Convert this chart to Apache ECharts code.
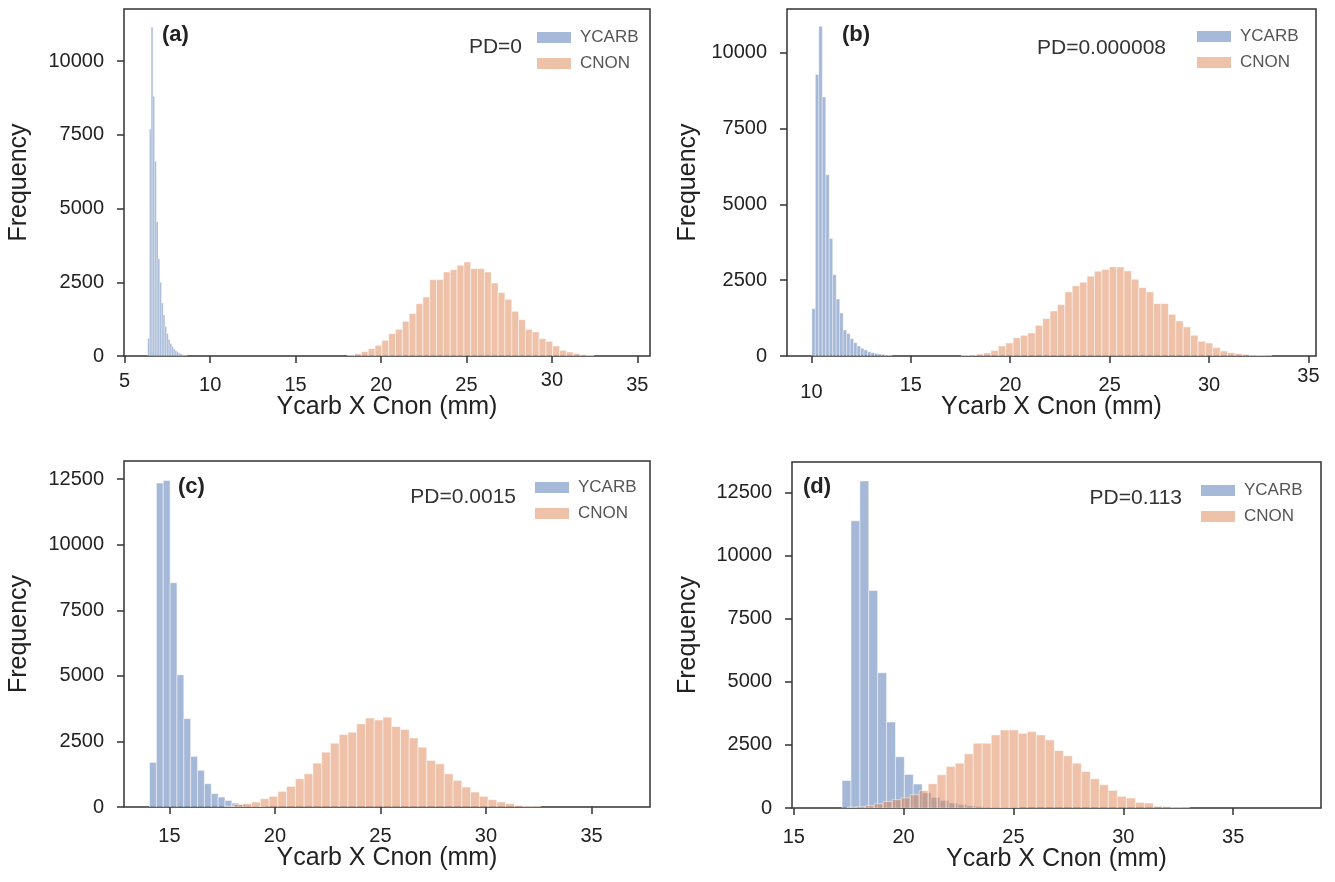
<!DOCTYPE html>
<html>
<head>
<meta charset="utf-8">
<script src="https://cdn.jsdelivr.net/npm/echarts@6/dist/echarts.min.js"></script>
<style>
html,body{margin:0;padding:0;background:#fff;}
#chart{width:1335px;height:882px;}
</style>
</head>
<body>
<div id="chart"></div>
<script>
// ---------------- DATA ----------------
const seriesNames = ['YCARB', 'CNON'];
const panelLabels = ['(a)', '(b)', '(c)', '(d)'];
const pdLabels = ['PD=0', 'PD=0.000008', 'PD=0.0015', 'PD=0.113'];
const xAxisTitle = 'Ycarb X Cnon (mm)';
const yAxisTitle = 'Frequency';

const xTicksA = [5, 10, 15, 20, 25, 30, 35];
const xTicksB = [10, 15, 20, 25, 30, 35];
const xTicksC = [15, 20, 25, 30, 35];
const xTicksD = [15, 20, 25, 30, 35];
const yTicksAB = [0, 2500, 5000, 7500, 10000];
const yTicksCD = [0, 2500, 5000, 7500, 10000, 12500];

// histogram bins: first bin left edge, bin width, counts per bin
const aYcarbStart = 6.35, aYcarbWidth = 0.1;
const aYcarbCounts = [600, 7700, 11160, 8800, 6600, 4550, 3300, 2500, 1800, 1390, 1000, 760, 560, 420, 320, 240, 180, 140, 100, 70, 45, 30, 15];
const aCnonStart = 18.05, aCnonWidth = 0.4;
const aCnonCounts = [30, 70, 150, 250, 362, 532, 758, 905, 1176, 1437, 1776, 2000, 2590, 2590, 2850, 2930, 3077, 3190, 2964, 2964, 2850, 2477, 2150, 1923, 1516, 1233, 905, 815, 588, 498, 340, 192, 136, 80, 45, 20];

const bYcarbStart = 10.02, bYcarbWidth = 0.175;
const bYcarbCounts = [1560, 9290, 10880, 8550, 5980, 3880, 2680, 1880, 1420, 860, 740, 570, 440, 330, 250, 200, 140, 110, 88, 66, 50, 30, 20];
const bCnonStart = 17.54, bCnonWidth = 0.372;
const bCnonCounts = [20, 35, 60, 100, 180, 330, 430, 600, 683, 760, 1013, 1233, 1487, 1696, 2115, 2313, 2434, 2632, 2797, 2852, 2940, 2940, 2808, 2533, 2258, 2115, 1729, 1729, 1377, 1156, 958, 683, 485, 429, 275, 165, 110, 77, 55, 30, 15, 8];

const cYcarbStart = 14.06, cYcarbWidth = 0.325;
const cYcarbCounts = [1700, 12350, 12450, 8550, 5040, 3370, 1930, 1400, 890, 510, 380, 250, 150, 90, 50, 30, 15];
const cCnonStart = 17.65, cCnonWidth = 0.415;
const cCnonCounts = [30, 100, 127, 190, 317, 405, 595, 785, 1076, 1266, 1672, 2090, 2432, 2761, 2850, 3166, 3394, 3318, 3420, 3065, 2951, 2634, 2280, 1773, 1646, 1266, 1013, 760, 570, 405, 279, 190, 127, 51, 25, 12];

const dYcarbStart = 17.2, dYcarbWidth = 0.405;
const dYcarbCounts = [1090, 11380, 12960, 8615, 5360, 3410, 2030, 1330, 950, 600, 420, 300, 200, 140, 90, 60, 40, 25, 15, 10];
const dCnonStart = 17.43, dCnonWidth = 0.41;
const dCnonCounts = [35, 55, 90, 170, 260, 330, 400, 530, 690, 960, 1316, 1645, 1776, 2145, 2566, 2566, 2895, 3092, 3092, 2960, 3026, 2895, 2697, 2276, 2066, 1776, 1447, 1158, 921, 697, 461, 395, 224, 197, 66, 53, 25, 12];

// ---------------- LAYOUT / STYLE ----------------
const blue = '#4c72b0', orange = '#dd8452';
const blueLegend = '#a6b9d8', orangeLegend = '#eec2a9';
const axisColor = '#333';
const fontFam = '"Liberation Sans", Arial, sans-serif';

// per-label vertical nudges (px) imitating the reference's uneven tick-label baseline
const panels = [
  {grid: {left: 124, top: 9, width: 526, height: 347}, xr: [4.96, 35.74], ymax: 11770, xt: xTicksA, yt: yTicksAB,
   yc: [aYcarbStart, aYcarbWidth, aYcarbCounts], cn: [aCnonStart, aCnonWidth, aCnonCounts], ycLw: 0.6,
   nameGapY: 92, legend: {left: 532, top: 24}, pd: [522, 47], lab: [162, 35],
   nudge: {5: -4, 30: -5}},
  {grid: {left: 787, top: 9, width: 529, height: 347}, xr: [8.77, 35.38], ymax: 11450, xt: xTicksB, yt: yTicksAB,
   yc: [bYcarbStart, bYcarbWidth, bYcarbCounts], cn: [bCnonStart, bCnonWidth, bCnonCounts], ycLw: 0.8,
   nameGapY: 86, legend: {left: 1192, top: 23}, pd: [1166, 48], lab: [842, 35],
   nudge: {10: 7, 35: -9}},
  {grid: {left: 124, top: 461, width: 526, height: 346}, xr: [12.85, 37.77], ymax: 13190, xt: xTicksC, yt: yTicksCD,
   yc: [cYcarbStart, cYcarbWidth, cYcarbCounts], cn: [cCnonStart, cCnonWidth, cCnonCounts], ycLw: 1,
   nameGapY: 92, legend: {left: 530, top: 474}, pd: [516, 497], lab: [178, 487],
   nudge: {}},
  {grid: {left: 792, top: 462, width: 529, height: 346}, xr: [14.92, 39.0], ymax: 13710, xt: xTicksD, yt: yTicksCD,
   yc: [dYcarbStart, dYcarbWidth, dYcarbCounts], cn: [dCnonStart, dCnonWidth, dCnonCounts], ycLw: 1,
   nameGapY: 91, legend: {left: 1196, top: 477}, pd: [1182, 498], lab: [803, 487],
   nudge: {}}
];

function bins(start, width, counts) {
  return counts.map((c, i) => [start + i * width, start + (i + 1) * width, c]);
}

function renderer(lw) {
  return function (params, api) {
    const p0 = api.coord([api.value(0), api.value(2)]);
    const p1 = api.coord([api.value(1), 0]);
    return {
      type: 'rect',
      shape: {x: p0[0], y: p0[1], width: p1[0] - p0[0], height: p1[1] - p0[1]},
      style: {fill: api.visual('color'), stroke: '#ffffff', lineWidth: lw, opacity: 0.5}
    };
  };
}

const labelBase = 10; // base top padding so labels can be nudged up or down
const option = {
  animation: false,
  backgroundColor: '#ffffff',
  grid: [], xAxis: [], yAxis: [], series: [], legend: [], graphic: []
};

panels.forEach((p, i) => {
  const rich = {};
  const nudgeKeys = Object.keys(p.nudge);
  rich.n = {fontSize: 20, color: '#222', fontFamily: fontFam, padding: [labelBase, 0, 0, 0]};
  nudgeKeys.forEach(k => {
    rich['v' + k] = {fontSize: 20, color: '#222', fontFamily: fontFam, padding: [labelBase + p.nudge[k], 0, 0, 0]};
  });
  option.grid.push(Object.assign({show: true, borderColor: axisColor, borderWidth: 1.5, backgroundColor: '#fff'}, p.grid));
  option.xAxis.push({
    type: 'value', gridIndex: i, min: p.xr[0], max: p.xr[1],
    name: xAxisTitle, nameLocation: 'middle', nameGap: 39, nameMoveOverlap: false,
    nameTextStyle: {fontSize: 25, color: '#222', fontFamily: fontFam},
    axisLine: {show: false},
    axisTick: {show: true, length: 7, inside: false, lineStyle: {color: axisColor, width: 1.5}, customValues: p.xt},
    axisLabel: {
      show: true, margin: 9, fontSize: 20, color: '#222', fontFamily: fontFam, customValues: p.xt,
      formatter: v => (p.nudge[v] !== undefined ? '{v' + v + '|' + v + '}' : '{n|' + v + '}'),
      rich: rich
    },
    splitLine: {show: false}
  });
  option.yAxis.push({
    type: 'value', gridIndex: i, min: 0, max: p.ymax,
    name: yAxisTitle, nameLocation: 'middle', nameGap: p.nameGapY, nameRotate: 90, nameMoveOverlap: false,
    nameTextStyle: {fontSize: 25, color: '#222', fontFamily: fontFam},
    axisLine: {show: false},
    axisTick: {show: true, length: 7, inside: false, lineStyle: {color: axisColor, width: 1.5}, customValues: p.yt},
    axisLabel: {show: true, margin: 20, fontSize: 20, color: '#222', fontFamily: fontFam, customValues: p.yt,
      formatter: v => String(v)},
    splitLine: {show: false}
  });
  option.series.push({
    type: 'custom', name: seriesNames[0], xAxisIndex: i, yAxisIndex: i, clip: true,
    itemStyle: {color: blue}, renderItem: renderer(p.ycLw),
    encode: {x: [0, 1], y: 2},
    data: bins(p.yc[0], p.yc[1], p.yc[2])
  });
  option.series.push({
    type: 'custom', name: seriesNames[1], xAxisIndex: i, yAxisIndex: i, clip: true,
    itemStyle: {color: orange}, renderItem: renderer(1),
    encode: {x: [0, 1], y: 2},
    data: bins(p.cn[0], p.cn[1], p.cn[2])
  });
  option.legend.push({
    orient: 'vertical', left: p.legend.left, top: p.legend.top,
    icon: 'rect', itemWidth: 34, itemHeight: 11, itemGap: 9,
    selectedMode: false,
    textStyle: {fontSize: 17, color: '#555', fontFamily: fontFam, lineHeight: 17, padding: [0, 0, 0, 4]},
    data: [
      {name: seriesNames[0], itemStyle: {color: blueLegend}},
      {name: seriesNames[1], itemStyle: {color: orangeLegend}}
    ]
  });
  option.graphic.push({
    type: 'text', x: p.pd[0], y: p.pd[1], silent: true,
    style: {text: pdLabels[i], fill: '#333', font: '21px ' + fontFam, align: 'right', verticalAlign: 'middle'}
  });
  option.graphic.push({
    type: 'text', x: p.lab[0], y: p.lab[1], silent: true,
    style: {text: panelLabels[i], fill: '#222', font: 'bold 22px ' + fontFam, align: 'left', verticalAlign: 'middle'}
  });
});

const chart = echarts.init(document.getElementById('chart'), null, {renderer: 'canvas'});
chart.setOption(option);
</script>
</body>
</html>
